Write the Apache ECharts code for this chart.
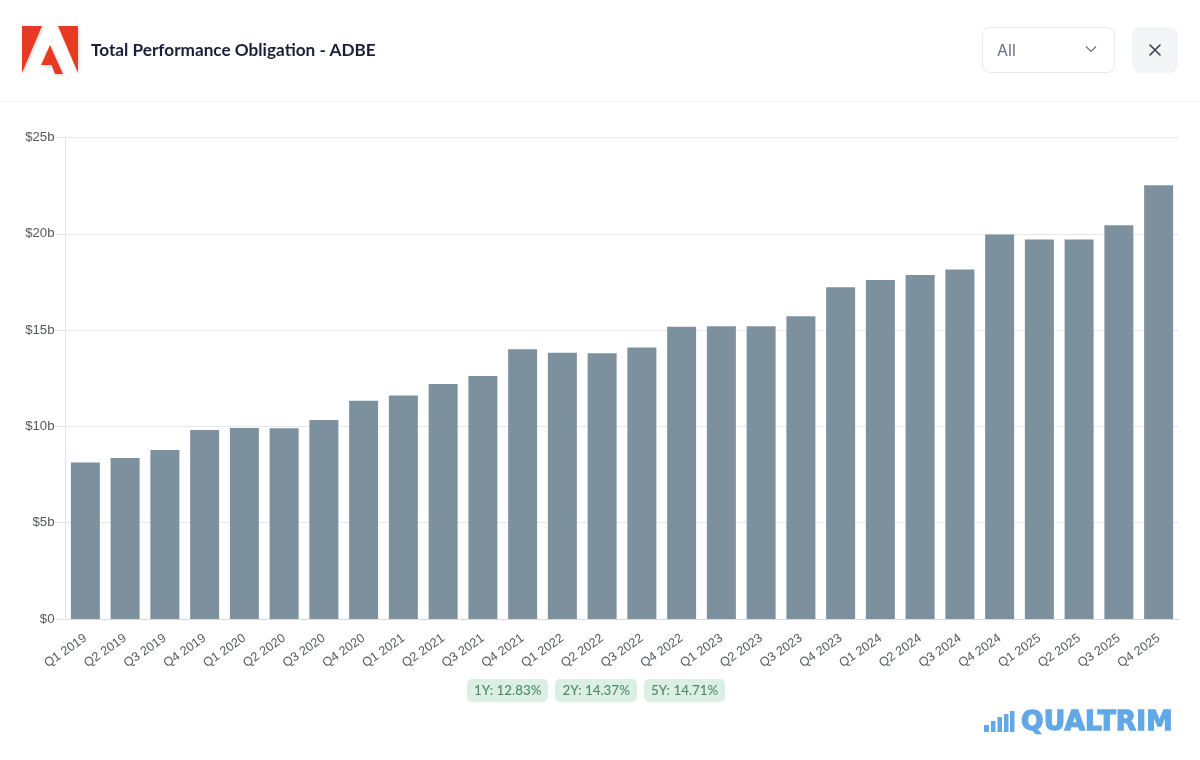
<!DOCTYPE html>
<html>
<head>
<meta charset="utf-8">
<title>Total Performance Obligation - ADBE</title>
<script src="https://cdn.jsdelivr.net/npm/echarts@6/dist/echarts.min.js"></script>
<style>
  html, body { margin: 0; padding: 0; background: #fff; overflow: hidden; }
  #page { position: relative; width: 1200px; height: 760px; font-family: Lato, sans-serif; }
  #container { position: absolute; left: 0; top: 0; width: 1200px; height: 760px; }
  .header-line { position: absolute; left: 0; top: 101px; width: 1200px; height: 1px; background: #f3f4f6; }
  .logo { position: absolute; left: 22px; top: 26px; }
  .title { position: absolute; left: 91px; top: 38px; font-size: 17.2px; line-height: 24px; font-weight: 700; color: #1a1f36; white-space: nowrap; }
  .select { position: absolute; left: 982px; top: 27px; width: 131px; height: 44px; border: 1px solid #e8e9ec; border-radius: 8px; }
  .select span { position: absolute; left: 14px; top: 11px; font: 16px/22px Inter, sans-serif; color: #6b7080; }
  .select svg { position: absolute; left: 102px; top: 17px; }
  .close { position: absolute; left: 1132px; top: 27px; width: 46px; height: 46px; border-radius: 8px; background: #f4f5f7; }
  .close svg { position: absolute; left: 16px; top: 16px; }
  .badges { position: absolute; left: 467px; top: 679px; display: flex; gap: 7px; }
  .badge { height: 23px; line-height: 23px; padding: 0 7px; border-radius: 5px; background: #dcefe5; color: #4f8a6b; font-size: 13.4px; font-weight: 500; white-space: nowrap; }
  .brand { position: absolute; left: 984px; top: 711px; }
  .brand-text { position: absolute; left: 1021px; top: 705px; font: 700 26.5px/32px "DejaVu Sans", sans-serif; letter-spacing: 0.1px; color: #62a7e6; -webkit-text-stroke: 1.3px #62a7e6; white-space: nowrap; }
</style>
</head>
<body>
<div id="page">
  <div id="container"></div>
  <div class="header-line"></div>
  <svg class="logo" width="60" height="54" viewBox="0 0 60 54">
    <defs><filter id="s" x="-10%" y="-10%" width="130%" height="130%"><feDropShadow dx="1" dy="1.5" stdDeviation="1.5" flood-color="#000" flood-opacity="0.18"/></filter></defs>
    <g fill="#e63a24" filter="url(#s)">
      <polygon points="0,0 20,0 0,47"/>
      <polygon points="36,0 56,0 56,47"/>
      <polygon points="28,19 41,48 33,48 29.5,39 19,39"/>
    </g>
  </svg>
  <div class="title">Total Performance Obligation - ADBE</div>
  <div class="select">
    <span>All</span>
    <svg width="12" height="8" viewBox="0 0 12 8"><path d="M1 1.5 L6 6.5 L11 1.5" fill="none" stroke="#6b7080" stroke-width="1.2"/></svg>
  </div>
  <div class="close">
    <svg width="14" height="14" viewBox="0 0 14 14"><path d="M2 2 L12 12 M12 2 L2 12" fill="none" stroke="#3a3f4e" stroke-width="1.6" stroke-linecap="round"/></svg>
  </div>
  <div class="badges">
    <div class="badge">1Y: 12.83%</div>
    <div class="badge">2Y: 14.37%</div>
    <div class="badge">5Y: 14.71%</div>
  </div>
  <svg class="brand" width="32" height="22" viewBox="0 0 32 22" fill="#62a7e6">
    <rect x="0" y="14" width="5" height="7"/>
    <rect x="7" y="10" width="4.5" height="11"/>
    <rect x="13.5" y="6" width="4.5" height="15"/>
    <rect x="20" y="3" width="4.5" height="18"/>
    <rect x="26" y="0" width="4.5" height="21"/>
  </svg>
  <div class="brand-text">QUALTRIM</div>
</div>
<script>
const quarters = [
  "Q1 2019", "Q2 2019", "Q3 2019", "Q4 2019",
  "Q1 2020", "Q2 2020", "Q3 2020", "Q4 2020",
  "Q1 2021", "Q2 2021", "Q3 2021", "Q4 2021",
  "Q1 2022", "Q2 2022", "Q3 2022", "Q4 2022",
  "Q1 2023", "Q2 2023", "Q3 2023", "Q4 2023",
  "Q1 2024", "Q2 2024", "Q3 2024", "Q4 2024",
  "Q1 2025", "Q2 2025", "Q3 2025", "Q4 2025",
];
// billions of dollars
const obligation = [
  8.12, 8.36, 8.77, 9.81,
  9.92, 9.9, 10.33, 11.33,
  11.6, 12.2, 12.62, 14.0,
  13.82, 13.8, 14.1, 15.18,
  15.2, 15.2, 15.72, 17.22,
  17.6, 17.86, 18.14, 19.96,
  19.7, 19.7, 20.44, 22.52,
];

const myChart = echarts.init(document.getElementById("container"), null, {
  renderer: "canvas",
});

myChart.setOption({
  animation: false,
  grid: { left: 65.5, right: 21.5, top: 137.5, bottom: 141, containLabel: false },
  xAxis: {
    type: "category",
    data: quarters,
    axisTick: { show: false },
    axisLine: { lineStyle: { color: "#d9dadd", width: 1 } },
    axisLabel: {
      interval: 0,
      rotate: 35,
      margin: 18,
      color: "#55585f",
      fontSize: 12.6,
      fontFamily: "Liberation Sans",
    },
  },
  yAxis: {
    type: "value",
    min: 0,
    max: 25,
    interval: 5,
    axisLine: { show: true, lineStyle: { color: "#e3e4e7", width: 1 } },
    axisTick: { show: true, length: 10, lineStyle: { color: "#e3e4e7" } },
    splitLine: { lineStyle: { color: "#e6e7ea", width: 1 } },
    axisLabel: {
      margin: 11,
      color: "#55585f",
      fontSize: 13.2,
      fontFamily: "Liberation Sans",
      padding: [3, 0, 0, 0],
      formatter: (v) => "$" + v + (v === 0 ? "" : "b"),
    },
  },
  series: [
    {
      type: "bar",
      data: obligation,
      barWidth: 29,
      itemStyle: { color: "#7d909e" },
    },
  ],
});
</script>
</body>
</html>
